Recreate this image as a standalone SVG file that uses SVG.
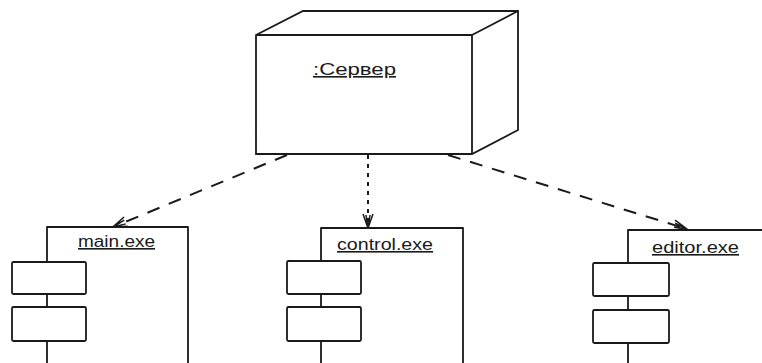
<svg xmlns="http://www.w3.org/2000/svg" width="762" height="363" viewBox="0 0 762 363">
<defs>
<style>
.ln{fill:none;stroke:#1a1a1a;stroke-width:1.8;stroke-linejoin:round}
.box{fill:#fff;stroke:#1a1a1a;stroke-width:1.8}
.lbl{font-family:"Liberation Sans",Arial,sans-serif;font-size:16px;fill:#1a1a1a;text-decoration:underline}
.dash{fill:none;stroke:#1a1a1a;stroke-width:2;stroke-dasharray:13 10}
.dot{fill:none;stroke:#1a1a1a;stroke-width:2;stroke-dasharray:4 5}
</style>
<marker id="open" viewBox="0 0 16 12" refX="15" refY="6" markerWidth="16" markerHeight="12" markerUnits="userSpaceOnUse" orient="auto">
<path d="M1,1 L15,6 L1,11 M2,4 L15,6 L2,8" fill="none" stroke="#1a1a1a" stroke-width="1.5"/>
</marker>
</defs>
<rect width="762" height="363" fill="#fff"/>
<g id="server">
<path class="box" d="M256,35 L303,11 L518,11 L518,130 L472,154 L256,154 Z"/>
<path class="ln" d="M256,35 L472,35 L518,11 M472,35 L472,154"/>
<text class="lbl" x="313" y="75" font-size="18" textLength="83" lengthAdjust="spacingAndGlyphs">:Сервер</text>
</g>
<g id="connectors">
<path class="dash" d="M287,155 L113,227" marker-end="url(#open)"/>
<path class="dot" d="M368,155 L368,228" marker-end="url(#open)"/>
<path class="dash" d="M448,155 L687,229" stroke-dasharray="14 20" marker-end="url(#open)"/>
</g>
<g id="main-exe">
<path class="ln" d="M47,375 L47,227 L188,227 L188,375"/>
<rect class="box" x="12" y="262" width="74" height="32" rx="1.5"/>
<rect class="box" x="12" y="307" width="74" height="34" rx="1.5"/>
<text class="lbl" x="78" y="247" textLength="77" lengthAdjust="spacingAndGlyphs">main.exe</text>
</g>
<g id="control-exe">
<path class="ln" d="M321,375 L321,228 L463,228 L463,375"/>
<rect class="box" x="287" y="261" width="74" height="33" rx="1.5"/>
<rect class="box" x="287" y="307" width="74" height="34" rx="1.5"/>
<text class="lbl" x="337" y="250" textLength="96" lengthAdjust="spacingAndGlyphs">control.exe</text>
</g>
<g id="editor-exe">
<path class="ln" d="M628,375 L628,230 L770,230"/>
<rect class="box" x="593" y="263" width="76" height="33" rx="1.5"/>
<rect class="box" x="593" y="310" width="76" height="33" rx="1.5"/>
<text class="lbl" x="652" y="253" textLength="87" lengthAdjust="spacingAndGlyphs">editor.exe</text>
</g>
</svg>
